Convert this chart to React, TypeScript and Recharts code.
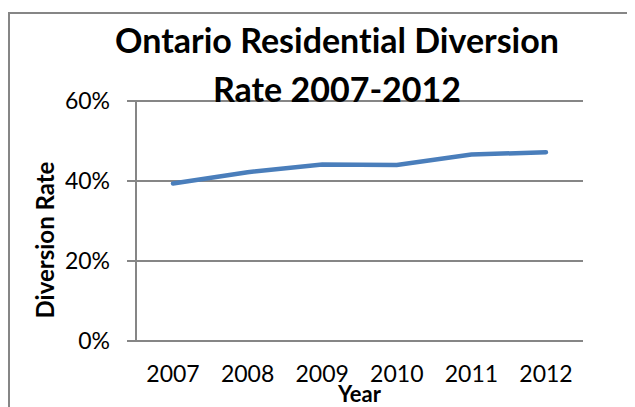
import React from 'react';
import { LineChart, Line, XAxis, YAxis, CartesianGrid, Label } from 'recharts';

const years = ['2007', '2008', '2009', '2010', '2011', '2012'];
const diversionRate = [0.394, 0.422, 0.441, 0.440, 0.466, 0.472];
const yTicks = [0, 0.2, 0.4, 0.6];
const edgeTicks = [0, 1, 2, 3, 4, 5, 6];

const data = years.map((year, i) => ({ year, rate: diversionRate[i] }));

const FONT = 'Lato, "Open Sans", sans-serif';
const GREY = '#868686';

const YTitle = (props: any) => {
  const { viewBox } = props;
  const cx = viewBox.x + 36;
  const cy = viewBox.y + viewBox.height / 2 + 19;
  return (
    <text
      x={cx}
      y={cy}
      transform={`rotate(-90, ${cx}, ${cy})`}
      textAnchor="middle"
      dominantBaseline="central"
      fontFamily={FONT}
      fontWeight="bold"
      fontSize={24}
      fill="#000"
    >
      Diversion Rate
    </text>
  );
};

export default function App() {
  return (
    <div style={{ position: 'relative', width: 627, height: 399, overflow: 'hidden', background: '#fff' }}>
      {/* chart frame, runs off the right and bottom like the source */}
      <div
        style={{
          position: 'absolute',
          left: 0,
          top: 4,
          width: 700,
          height: 500,
          border: `2px solid ${GREY}`,
          boxSizing: 'border-box',
        }}
      />
      <LineChart
        width={627}
        height={399}
        data={data}
        margin={{ top: 93, right: 52, bottom: 0, left: 0 }}
        style={{ position: 'absolute', left: 0, top: 0 }}
      >
        <CartesianGrid xAxisId="cat" vertical={false} stroke={GREY} strokeWidth={2} />
        <XAxis
          xAxisId="edge"
          type="number"
          domain={[0, 6]}
          ticks={edgeTicks}
          allowDataOverflow
          tick={false}
          tickSize={7}
          height={0}
          stroke={GREY}
          strokeWidth={2}
        />
        <XAxis
          xAxisId="cat"
          dataKey="year"
          padding={{ left: 37, right: 37 }}
          axisLine={false}
          tickLine={false}
          tickSize={0}
          tickMargin={25}
          height={66}
          interval={0}
          tick={{ fontSize: 23, fill: '#000', fontFamily: FONT }}
        >
          <Label
            value="Year"
            position="insideBottom"
            offset={5}
            style={{ fontSize: 22, fontWeight: 'bold', fill: '#000', fontFamily: FONT }}
          />
        </XAxis>
        <YAxis
          width={128}
          domain={[0, 0.6]}
          ticks={yTicks}
          tickFormatter={(v: number) => `${Math.round(v * 100)}%`}
          stroke={GREY}
          strokeWidth={2}
          tickSize={9}
          tickMargin={17}
          tick={{ fontSize: 23, fill: '#000', fontFamily: FONT }}
        >
          <Label content={YTitle} />
        </YAxis>
        <Line
          xAxisId="cat"
          type="linear"
          dataKey="rate"
          stroke="#4A7EBB"
          strokeWidth={4.5}
          strokeLinecap="round"
          dot={false}
          activeDot={false}
          isAnimationActive={false}
        />
      </LineChart>
      <div
        style={{
          position: 'absolute',
          left: 29,
          top: 7,
          width: 600,
          textAlign: 'center',
          fontFamily: FONT,
          fontWeight: 'bold',
          fontSize: 34,
          lineHeight: '49px',
          whiteSpace: 'nowrap',
          fontVariantLigatures: 'none',
          color: '#000',
        }}
      >
        Ontario Residential Diversion
        <br />
        Rate 2007-2012
      </div>
    </div>
  );
}
